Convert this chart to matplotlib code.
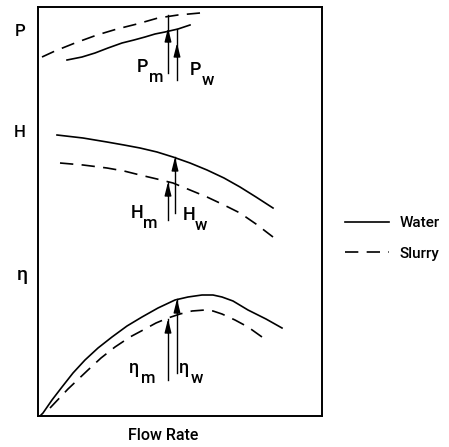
import matplotlib
matplotlib.use("Agg")
import matplotlib.pyplot as plt

plt.rcParams['font.family'] = ['Roboto', 'Liberation Sans', 'DejaVu Sans']
plt.rcParams['font.weight'] = 'medium'

# curve points (x: flow, y: height above the bottom axis)
p_water_x = [29, 44, 57, 70, 84, 96, 107, 117, 127, 140, 152]
p_water_y = [356, 359, 363, 368, 373, 376, 379, 382, 384, 387, 391]
p_slurry_x = [4, 17, 37, 59, 79, 99, 120, 140, 162]
p_slurry_y = [359, 365, 373, 381, 387, 392, 398, 401, 403]

h_water_x = [19, 45, 69, 86, 102, 119, 135, 152, 169, 186, 202, 218, 235]
h_water_y = [281, 278, 274, 271, 268, 264, 259, 253, 246, 238, 229, 219, 208]
h_slurry_x = [22, 45, 69, 86, 102, 119, 135, 152, 169, 186, 202, 218, 235]
h_slurry_y = [253, 251, 248, 245, 241, 237, 233, 226, 219, 211, 203, 192, 179]

eta_water_x = [2, 5, 14, 24, 35, 47, 60, 74, 89, 104, 120, 137, 150, 164, 175, 184, 195, 210, 228, 244]
eta_water_y = [0, 3, 16, 29, 43, 56, 68, 79, 90, 99, 108, 116, 119, 121, 121, 119, 115, 106, 97, 88]
eta_slurry_x = [12, 30, 50, 63, 77, 92, 107, 118, 130, 142, 154, 167, 175, 184, 197, 210, 224]
eta_slurry_y = [8, 27, 46, 58, 69, 79, 87, 93, 98, 102, 105, 106, 105, 102, 96, 89, 79]

# arrows: x position, bottom, top of the shaft, tip of the head
arrow_x = [130, 139, 130, 137, 130, 139]
arrow_y0 = [343, 336, 196, 203, 36, 43]
arrow_y1 = [401, 387, 234, 259, 97, 117]
arrow_head = [388, 373, 234, 259, 97, 117]
arrow_labels = [('P', 'm'), ('P', 'w'), ('H', 'm'), ('H', 'w'), ('\u03b7', 'm'), ('\u03b7', 'w')]
label_x = [99, 152, 93, 145, 91, 141]
label_y = [344, 341, 198, 196, 43, 43]

fig = plt.figure(figsize=(4.49, 4.47), dpi=100)
ax = fig.add_axes([38 / 449, 31 / 447, 284 / 449, 409 / 447])
ax.set_xlim(0, 284)
ax.set_ylim(0, 409)
ax.set_xticks([])
ax.set_yticks([])
for s in ax.spines.values():
    s.set_linewidth(1.4)

lw = 1.2
dash = (0, (8, 5))
ax.plot(p_water_x, p_water_y, color='black', lw=lw)
ax.plot(p_slurry_x, p_slurry_y, color='black', lw=lw, linestyle=dash)
ax.plot(h_water_x, h_water_y, color='black', lw=lw, label='Water')
ax.plot(h_slurry_x, h_slurry_y, color='black', lw=lw, linestyle=dash, label='Slurry')
ax.plot(eta_water_x, eta_water_y, color='black', lw=lw)
ax.plot(eta_slurry_x, eta_slurry_y, color='black', lw=lw, linestyle=dash)

for x, y0, y1, yh in zip(arrow_x, arrow_y0, arrow_y1, arrow_head):
    ax.plot([x, x], [y0, y1], color='black', lw=1.0)
    ax.annotate('', xy=(x, yh), xytext=(x, yh - 14),
                arrowprops=dict(arrowstyle='-|>,head_length=0.8,head_width=0.2',
                                color='black', lw=1.0, shrinkA=0, shrinkB=0))

for (big, sub), x, y in zip(arrow_labels, label_x, label_y):
    ax.text(x, y, big, fontsize=13, ha='left', va='baseline')
    ax.text(x + 12, y - 10, sub, fontsize=12, ha='left', va='baseline')

ax.text(-18, 384, 'P', fontsize=12, ha='center', va='center')
ax.text(-18, 283, 'H', fontsize=12, ha='center', va='center')
ax.text(-16, 141, '\u03b7', fontsize=14, ha='center', va='center')
ax.text(125, -19, 'Flow Rate', fontsize=11.5, ha='center', va='center')

ax.legend(loc='upper left', bbox_to_anchor=(345 / 449, 1 - 216 / 447),
          bbox_transform=fig.transFigure, frameon=False, fontsize=11,
          handlelength=2.9, handletextpad=0.7, labelspacing=1.1,
          borderpad=0, borderaxespad=0)

fig.savefig('out.png', dpi=100)
